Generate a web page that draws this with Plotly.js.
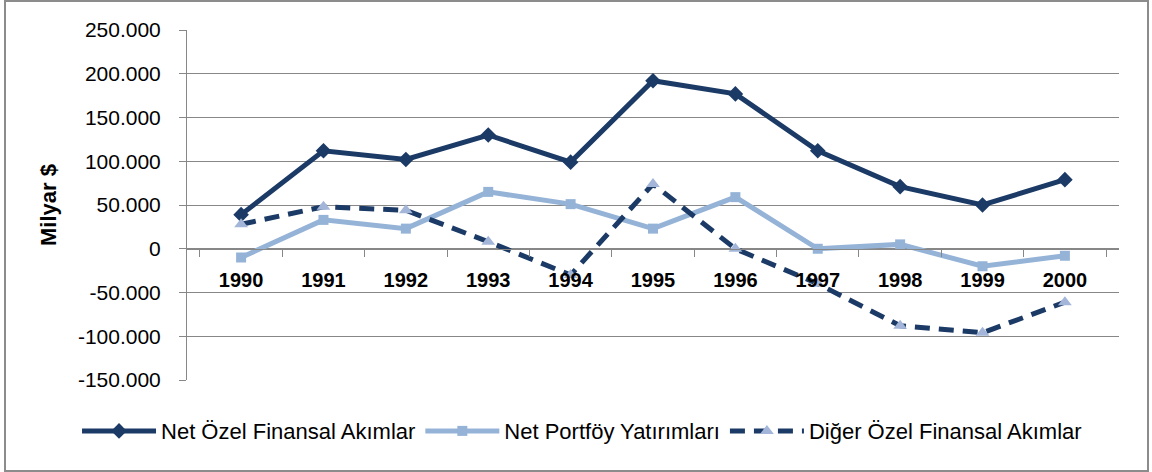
<!DOCTYPE html>
<html>
<head>
<meta charset="utf-8">
<script src="https://cdn.plot.ly/plotly-3.0.1.min.js"></script>
<style>
  html, body { margin: 0; padding: 0; background: #ffffff; }
  #wrap { position: relative; width: 1152px; height: 472px; }
  #chart { width: 1152px; height: 472px; }
  #frame { position: absolute; left: 4px; top: 0px; width: 1141px; height: 468px;
           border: 2px solid #8c8c8c; pointer-events: none; box-sizing: content-box; }
</style>
</head>
<body>
<div id="wrap">
  <div id="chart"></div>
  <div id="frame"></div>
</div>
<script>
// ---- data (values in million $) ----
const years = ['1990','1991','1992','1993','1994','1995','1996','1997','1998','1999','2000'];
const netOzel = [39000, 112000, 102000, 130000, 99000, 192000, 177000, 112000, 71000, 50000, 79000];
const netPortfoy = [-10000, 33000, 23000, 65000, 51000, 23000, 59000, 0, 5000, -20000, -8000];
const digerOzel = [28000, 48000, 44000, 8000, -30000, 74000, 0, -40000, -88000, -96000, -61000];
const seriesNames = ['Net Özel Finansal Akımlar', 'Net Portföy Yatırımları', 'Diğer Özel Finansal Akımlar'];
const yTickVals = [-150000, -100000, -50000, 0, 50000, 100000, 150000, 200000, 250000];
const yTickText = ['-150.000', '-100.000', '-50.000', '0', '50.000', '100.000', '150.000', '200.000', '250.000'];
const yTitle = 'Milyar $';

const navy = '#1b3a66';
const light = '#95b3d7';
const tri = '#a3b6d9';
const grid = '#878787';
const FONT = 'Liberation Sans, Arial, sans-serif';

const traces = [
  { x: years, y: netOzel, name: seriesNames[0], type: 'scatter', mode: 'lines+markers',
    line: { color: navy, width: 5 },
    marker: { symbol: 'diamond', size: 12, color: navy } },
  { x: years, y: netPortfoy, name: seriesNames[1], type: 'scatter', mode: 'lines+markers',
    line: { color: light, width: 5 },
    marker: { symbol: 'square', size: 10, color: light } },
  { x: years, y: digerOzel, name: seriesNames[2], type: 'scatter', mode: 'lines+markers',
    line: { color: navy, width: 5, dash: '15px,9px' },
    marker: { symbol: 'triangle-up', size: 12, color: tri } }
];

const layout = {
  width: 1152, height: 472,
  margin: { l: 187, r: 33, t: 29.5, b: 91.5, pad: 0 },
  paper_bgcolor: '#ffffff', plot_bgcolor: '#ffffff',
  font: { family: FONT, size: 21, color: '#000000' },
  showlegend: true,
  legend: { orientation: 'h', x: -0.118, xanchor: 'left', y: -0.146, yanchor: 'middle',
            itemwidth: 74,
            font: { family: FONT, size: 22, color: '#000000' }, bgcolor: 'rgba(0,0,0,0)' },
  xaxis: {
    type: 'category', anchor: 'free', position: 0.375,
    showline: true, linecolor: grid, linewidth: 1,
    showgrid: false, zeroline: false,
    ticks: 'outside', tickson: 'boundaries', ticklen: 7, tickcolor: grid, tickwidth: 1,
    ticklabelstandoff: 13,
    tickfont: { family: FONT, size: 20, color: '#000000', weight: 'bold' },
    fixedrange: true
  },
  yaxis: {
    range: [-150000, 250000], tickmode: 'array', tickvals: yTickVals, ticktext: yTickText,
    showline: true, linecolor: grid, linewidth: 1,
    showgrid: true, gridcolor: grid, gridwidth: 1, zeroline: false,
    ticks: 'outside', ticklen: 7, tickcolor: grid, tickwidth: 1,
    ticklabelstandoff: 14,
    tickfont: { family: FONT, size: 21, color: '#000000' },
    title: { text: yTitle, standoff: 15, font: { family: FONT, size: 22, color: '#000000', weight: 'bold' } },
    automargin: false, fixedrange: true
  }
};

Plotly.newPlot('chart', traces, layout, { displayModeBar: false, staticPlot: true });
</script>
</body>
</html>
